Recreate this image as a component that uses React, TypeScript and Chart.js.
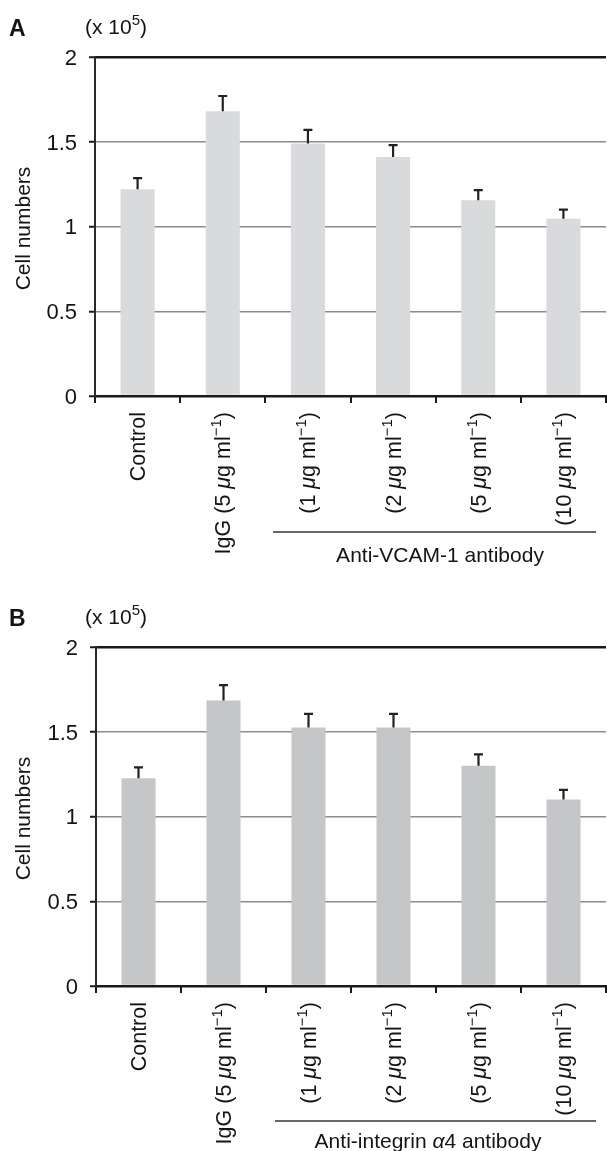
import React, { useEffect, useRef } from "react";
import { Chart, registerables } from "chart.js";

Chart.register(...registerables);

// ---------- data ----------
const categories = [
  "Control",
  "IgG (5 μg ml⁻¹)",
  "(1 μg ml⁻¹)",
  "(2 μg ml⁻¹)",
  "(5 μg ml⁻¹)",
  "(10 μg ml⁻¹)",
];
const yTickValues = [0, 0.5, 1, 1.5, 2];
const yTickLabels = ["0", "0.5", "1", "1.5", "2"];

const valuesA = [1.22, 1.68, 1.49, 1.41, 1.155, 1.045];
const errorsA = [0.065, 0.09, 0.08, 0.07, 0.06, 0.055];

const valuesB = [1.225, 1.685, 1.525, 1.525, 1.3, 1.1];
const errorsB = [0.065, 0.09, 0.08, 0.08, 0.067, 0.057];

const panelLetters = ["A", "B"];
const groupLabels = ["Anti-VCAM-1 antibody", "Anti-integrin α4 antibody"];
const yAxisTitle = "Cell numbers";
const unitLabel = "(x 10⁵)";

// ---------- text helpers ----------
const FONT = '"Liberation Sans", Arial, Helvetica, sans-serif';
const TEXT_COLOR = "#141414";

type Seg = { text: string; italic: boolean; sup: boolean };

function parseRich(str: string): Seg[] {
  const segs: Seg[] = [];
  let i = 0;
  while (i < str.length) {
    const ch = str[i];
    if (ch === "⁻" && str[i + 1] === "¹") {
      segs.push({ text: "−1", italic: false, sup: true });
      i += 2;
      continue;
    }
    if (ch === "⁵") {
      segs.push({ text: "5", italic: false, sup: true });
      i += 1;
      continue;
    }
    if (ch === "μ" || ch === "α") {
      segs.push({ text: ch, italic: true, sup: false });
      i += 1;
      continue;
    }
    const last = segs[segs.length - 1];
    if (last && !last.italic && !last.sup) last.text += ch;
    else segs.push({ text: ch, italic: false, sup: false });
    i += 1;
  }
  return segs;
}

function segFont(seg: Seg, size: number, bold = false) {
  const s = seg.sup ? Math.round(size * 0.7) : size;
  return `${seg.italic ? "italic " : ""}${bold ? "bold " : ""}${s}px ${FONT}`;
}

function drawRich(
  ctx: CanvasRenderingContext2D,
  str: string,
  x: number,
  y: number,
  size: number,
  align: "left" | "right" | "center",
  color = TEXT_COLOR,
  bold = false
) {
  const segs = parseRich(str);
  let total = 0;
  const widths: number[] = [];
  for (const s of segs) {
    ctx.font = segFont(s, size, bold);
    const w = ctx.measureText(s.text).width;
    widths.push(w);
    total += w;
  }
  let cx = align === "left" ? x : align === "right" ? x - total : x - total / 2;
  ctx.fillStyle = color;
  ctx.textAlign = "left";
  ctx.textBaseline = "alphabetic";
  segs.forEach((s, k) => {
    ctx.font = segFont(s, size, bold);
    ctx.fillText(s.text, cx, s.sup ? y - size * 0.42 : y);
    cx += widths[k];
  });
}

// ---------- panel ----------
type PanelProps = {
  index: number;
  values: number[];
  errors: number[];
  barColor: string;
  height: number;
  top: number;
  padTop: number;
  padLeft: number;
  groupLineY: number;
  groupLineX: [number, number];
  groupTextX: number;
  groupTextY: number;
};

function Panel(p: PanelProps) {
  const ref = useRef<HTMLCanvasElement | null>(null);

  useEffect(() => {
    if (!ref.current) return;
    const size = 21;
    const tickSize = 22;
    const tickLen = 7;

    const errorBars = {
      id: "errorBars",
      afterDatasetsDraw(chart: any) {
        const ctx = chart.ctx as CanvasRenderingContext2D;
        const meta = chart.getDatasetMeta(0);
        const y = chart.scales.y;
        ctx.save();
        ctx.strokeStyle = "#222222";
        ctx.lineWidth = 2.2;
        meta.data.forEach((bar: any, i: number) => {
          const v = p.values[i];
          const e = p.errors[i];
          const y0 = y.getPixelForValue(v);
          const y1 = y.getPixelForValue(v + e);
          ctx.beginPath();
          ctx.moveTo(bar.x, y0);
          ctx.lineTo(bar.x, y1);
          ctx.moveTo(bar.x - 4.5, y1);
          ctx.lineTo(bar.x + 4.5, y1);
          ctx.stroke();
        });
        ctx.restore();
      },
    };

    const texts = {
      id: "texts",
      afterDraw(chart: any) {
        const ctx = chart.ctx as CanvasRenderingContext2D;
        const ca = chart.chartArea;
        const xs = chart.scales.x;
        const ys = chart.scales.y;
        ctx.save();
        yTickValues.forEach((v, i) => {
          const py = ys.getPixelForValue(v);
          drawRich(ctx, yTickLabels[i], ca.left - 18, py + tickSize * 0.358, tickSize, "right");
        });
        ctx.save();
        ctx.translate(22, (ca.top + ca.bottom) / 2 + 2);
        ctx.rotate(-Math.PI / 2);
        drawRich(ctx, yAxisTitle, 0, size * 0.358, size, "center");
        ctx.restore();
        drawRich(ctx, panelLetters[p.index], 9, 36, 23, "left", TEXT_COLOR, true);
        drawRich(ctx, unitLabel, 85, 33.5, size, "left");
        categories.forEach((c, i) => {
          const px = xs.getPixelForValue(i);
          ctx.save();
          ctx.translate(px, ca.bottom + 16);
          ctx.rotate(-Math.PI / 2);
          drawRich(ctx, c, 0, size * 0.358, 21.5, "right");
          ctx.restore();
        });
        ctx.strokeStyle = "#333333";
        ctx.lineWidth = 1.3;
        ctx.beginPath();
        ctx.moveTo(p.groupLineX[0], p.groupLineY);
        ctx.lineTo(p.groupLineX[1], p.groupLineY);
        ctx.stroke();
        drawRich(ctx, groupLabels[p.index], p.groupTextX, p.groupTextY, size, "center");
        ctx.restore();
      },
    };

    const chart = new Chart(ref.current, {
      type: "bar",
      data: {
        labels: categories,
        datasets: [
          {
            data: p.values,
            backgroundColor: p.barColor,
            borderWidth: 0,
            barPercentage: 0.4,
            categoryPercentage: 1.0,
          },
        ],
      },
      options: {
        responsive: false,
        animation: false,
        devicePixelRatio: 1,
        layout: {
          padding: {
            top: p.padTop,
            left: p.padLeft - tickLen,
            right: 1,
            bottom: p.height - 396 - tickLen,
          },
        },
        plugins: {
          legend: { display: false },
          tooltip: { enabled: false },
          title: { display: false },
        },
        scales: {
          x: {
            ticks: { display: false },
            grid: {
              offset: true,
              drawOnChartArea: false,
              drawTicks: true,
              tickLength: tickLen,
              tickColor: "#1a1a1a",
              tickWidth: 2,
              lineWidth: 2,
              color: "#1a1a1a",
            },
            border: { display: true, color: "#1a1a1a", width: 2 },
          },
          y: {
            min: 0,
            max: 2,
            ticks: { display: false, stepSize: 0.5 },
            grid: {
              drawTicks: true,
              tickLength: tickLen - 1,
              tickColor: "#1a1a1a",
              tickWidth: 2,
              color: (c: any) =>
                c.tick && (c.tick.value === 2 || c.tick.value === 0) ? "#1a1a1a" : "#8c8c8c",
              lineWidth: (c: any) =>
                c.tick && (c.tick.value === 2 || c.tick.value === 0) ? 2.5 : 1.5,
            },
            border: { display: true, color: "#2a2a2a", width: 2 },
          },
        },
      },
      plugins: [errorBars, texts],
    });

    return () => chart.destroy();
  }, []);

  return (
    <canvas
      ref={ref}
      width={607}
      height={p.height}
      style={{ position: "absolute", left: 0, top: p.top, width: 607, height: p.height }}
    />
  );
}

export default function App() {
  return (
    <div
      style={{
        position: "absolute",
        left: 0,
        top: 0,
        width: 607,
        height: 1151,
        background: "#ffffff",
        overflow: "hidden",
      }}
    >
      <Panel
        index={0}
        values={valuesA}
        errors={errorsA}
        barColor="#d9dadc"
        height={590}
        top={0}
        padTop={57}
        padLeft={96}
        groupLineY={532}
        groupLineX={[273, 596]}
        groupTextX={440}
        groupTextY={562}
      />
      <Panel
        index={1}
        values={valuesB}
        errors={errorsB}
        barColor="#c5c6c8"
        height={561}
        top={590}
        padTop={57}
        padLeft={97}
        groupLineY={531}
        groupLineX={[275, 596]}
        groupTextX={428}
        groupTextY={558}
      />
    </div>
  );
}
